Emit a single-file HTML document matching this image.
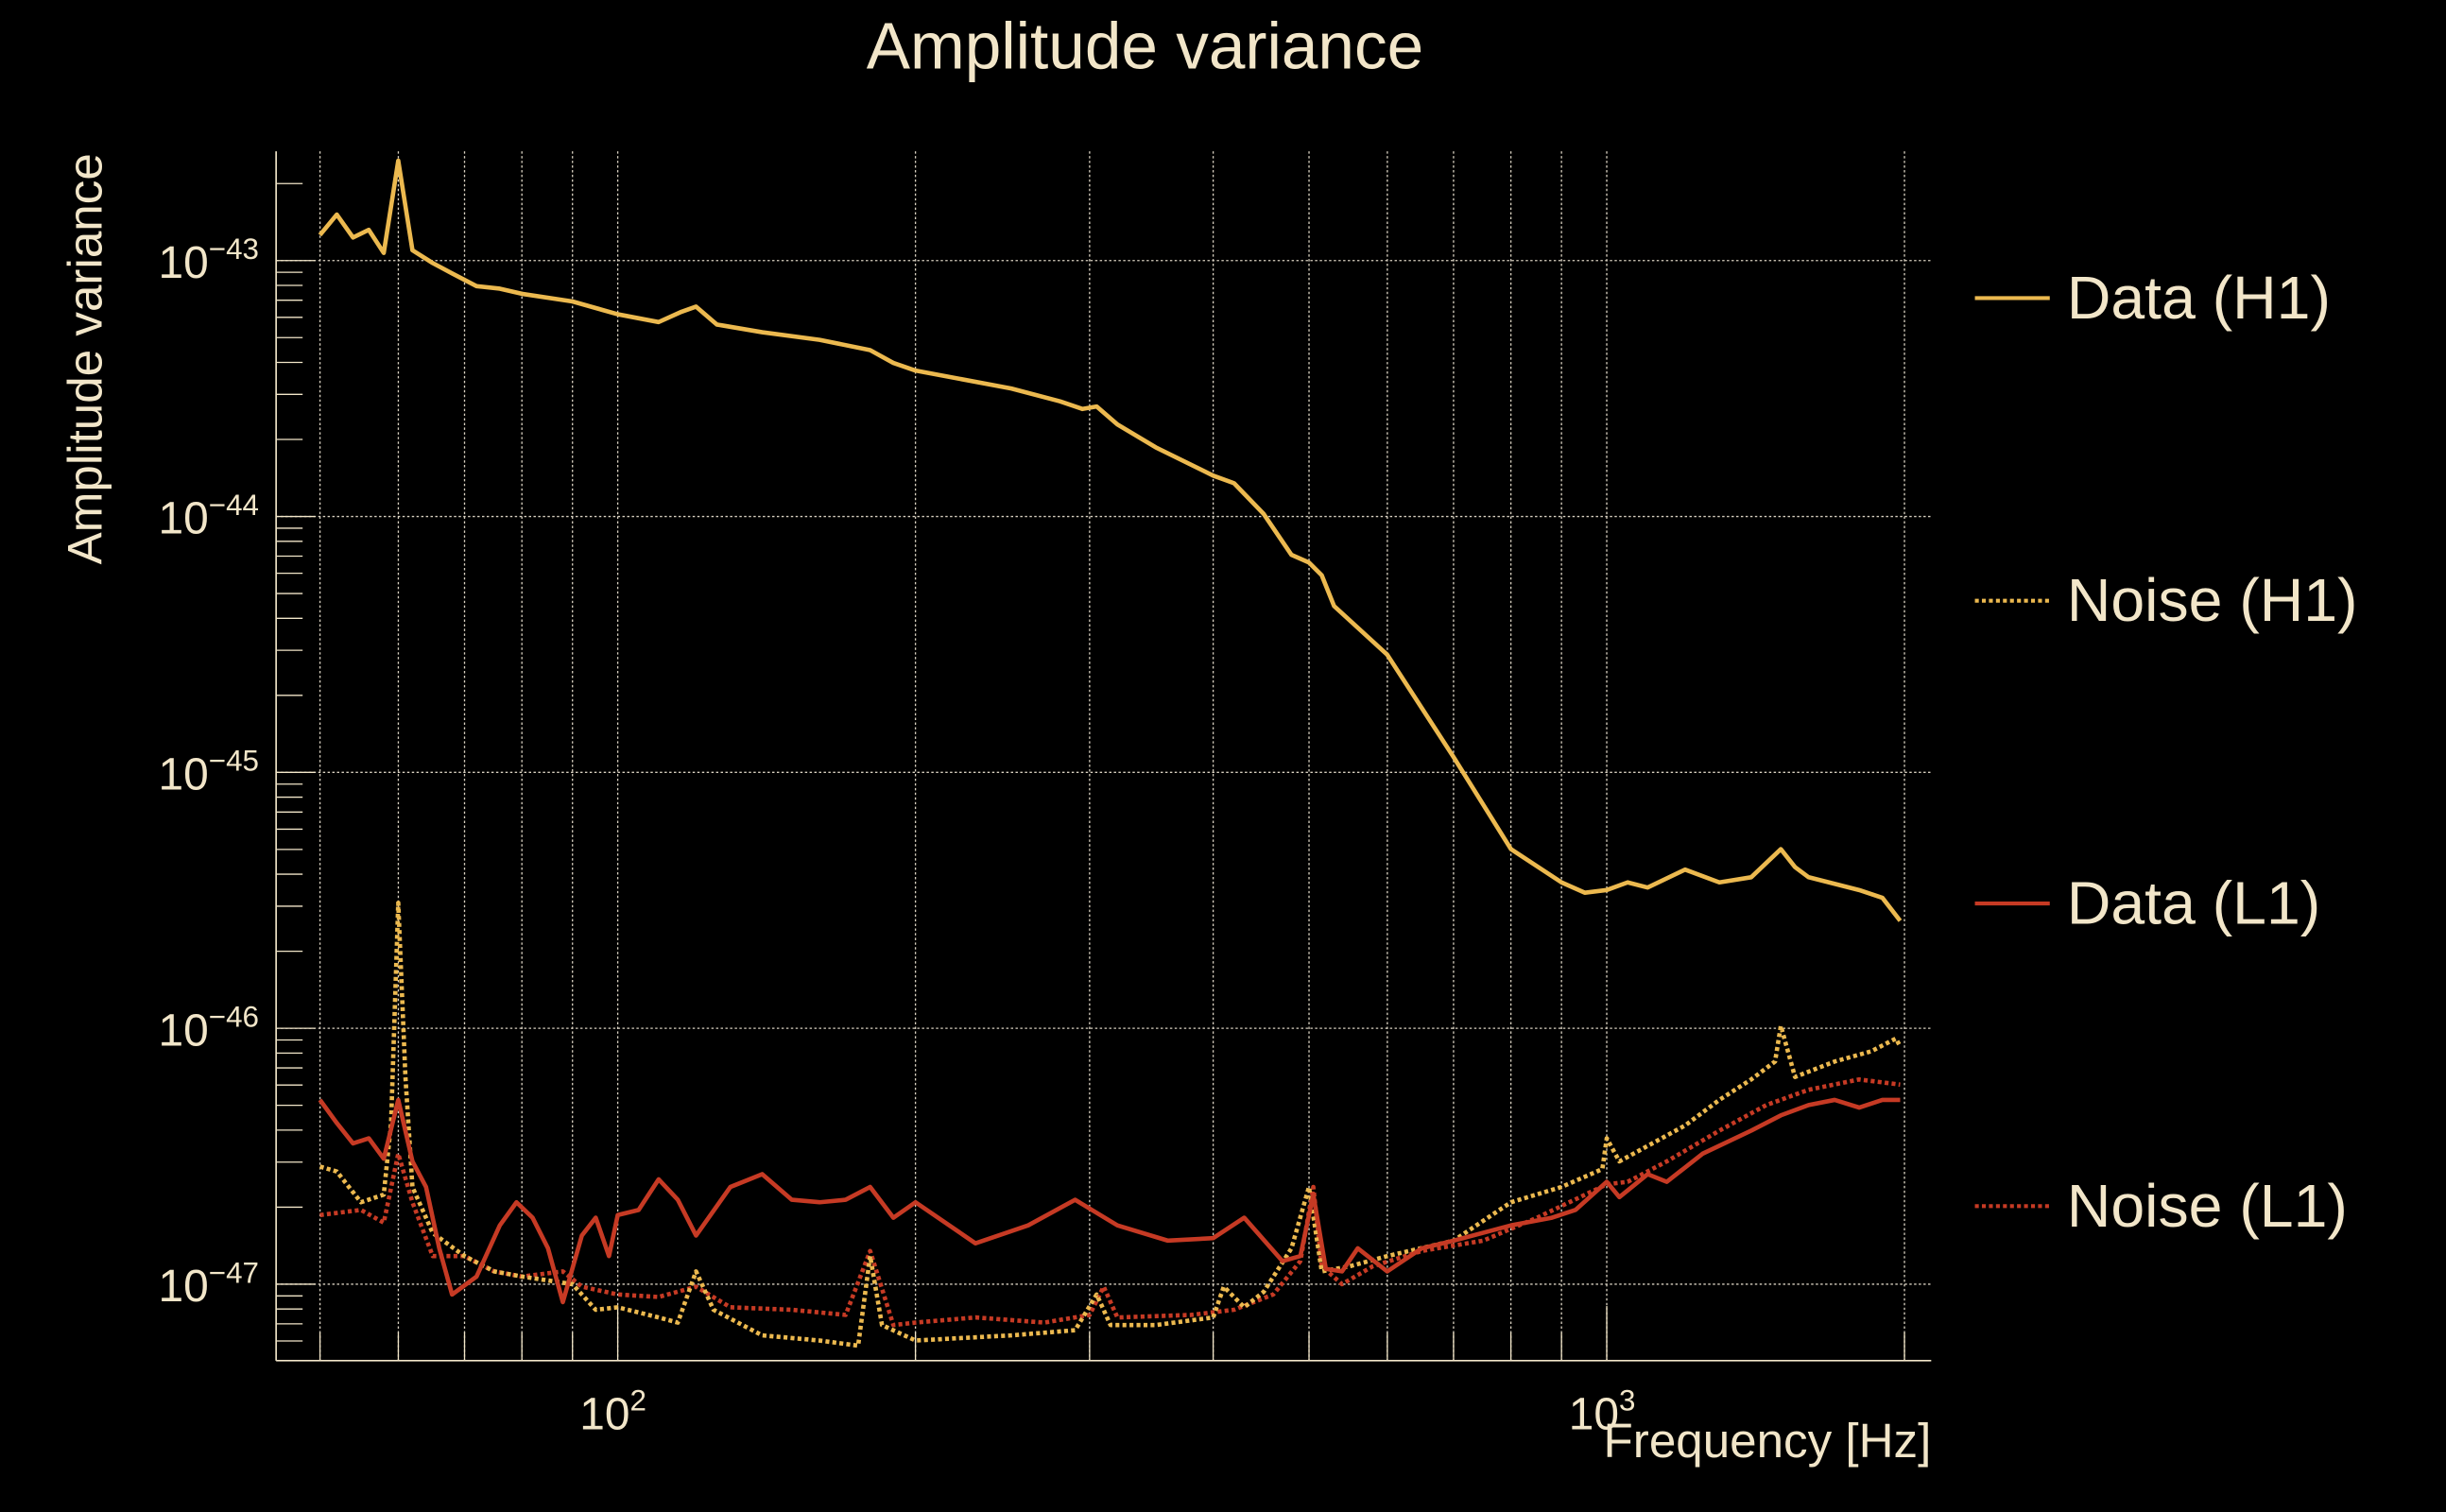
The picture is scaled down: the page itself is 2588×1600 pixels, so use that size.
<!DOCTYPE html>
<html><head><meta charset="utf-8"><style>
html,body{margin:0;padding:0;background:#000;}
svg{display:block;}
text{font-family:"Liberation Sans",sans-serif;fill:#f2e6c9;}
</style></head><body>
<svg id="chart" width="2588" height="1600" viewBox="0 0 1568 969" preserveAspectRatio="none" xmlns="http://www.w3.org/2000/svg">
<rect width="1568" height="969" fill="#000"/>
<g id="grid"></g>
<g id="axes"></g>
<g id="series"></g>
<text x="734" y="44" font-size="42" text-anchor="middle">Amplitude variance</text>
<text x="0" y="0" font-size="31" text-anchor="middle" transform="translate(65,230) rotate(-90)">Amplitude variance</text>
<text x="1238" y="934" font-size="31" text-anchor="end">Frequency [Hz]</text>
<g id="legend"></g>
</svg>
<script>
const hFreq=[50,52,54,56,58,60,62,65,68,72,76,80,90,100,110,116,120,126,140,160,180,190,200,250,280,295,305,320,350,400,420,450,480,500,515,530,600,700,800,900,950,1000,1050,1100,1200,1300,1400,1500,1550,1600,1800,1900,1980];
const dataH1=[-42.90,-42.82,-42.91,-42.88,-42.97,-42.61,-42.96,-43.01,-43.05,-43.10,-43.11,-43.13,-43.16,-43.21,-43.24,-43.20,-43.18,-43.25,-43.28,-43.31,-43.35,-43.40,-43.43,-43.50,-43.55,-43.58,-43.57,-43.64,-43.73,-43.84,-43.87,-43.99,-44.15,-44.18,-44.23,-44.35,-44.54,-44.94,-45.30,-45.43,-45.47,-45.46,-45.43,-45.45,-45.38,-45.43,-45.41,-45.30,-45.37,-45.41,-45.46,-45.49,-45.58];
const nhFreq=[50,52,55,58,59,60,61,62,65,70,75,80,90,95,100,110,115,120,125,140,160,175,180,185,200,250,290,305,315,350,400,410,430,450,480,500,515,550,600,700,800,900,990,1000,1030,1100,1200,1300,1400,1480,1500,1550,1700,1850,1960,1980];
const noiseH1=[-46.54,-46.56,-46.68,-46.65,-46.37,-45.51,-46.19,-46.62,-46.80,-46.89,-46.95,-46.97,-47.00,-47.10,-47.09,-47.13,-47.15,-46.95,-47.10,-47.20,-47.22,-47.24,-46.89,-47.16,-47.22,-47.20,-47.18,-47.04,-47.16,-47.16,-47.13,-47.01,-47.09,-47.03,-46.86,-46.62,-46.95,-46.93,-46.89,-46.83,-46.68,-46.62,-46.55,-46.43,-46.52,-46.46,-46.38,-46.28,-46.20,-46.13,-45.99,-46.19,-46.13,-46.09,-46.04,-46.07];
const lFreq=[50,52,54,56,58,60,62,64,66,68,72,76,79,82,85,88,92,95,98,100,105,110,115,120,130,140,150,160,170,180,190,200,230,260,290,320,360,400,430,470,490,505,520,540,560,600,650,700,800,880,930,1000,1030,1100,1150,1250,1400,1500,1600,1700,1800,1900,1980];
const dataL1=[-46.28,-46.37,-46.45,-46.43,-46.51,-46.28,-46.52,-46.62,-46.86,-47.04,-46.97,-46.77,-46.68,-46.74,-46.86,-47.07,-46.81,-46.74,-46.89,-46.73,-46.71,-46.59,-46.67,-46.81,-46.62,-46.57,-46.67,-46.68,-46.67,-46.62,-46.74,-46.68,-46.84,-46.77,-46.67,-46.77,-46.83,-46.82,-46.74,-46.91,-46.89,-46.65,-46.94,-46.95,-46.86,-46.95,-46.86,-46.83,-46.77,-46.74,-46.71,-46.60,-46.66,-46.57,-46.60,-46.49,-46.40,-46.34,-46.30,-46.28,-46.31,-46.28,-46.28];
const nlFreq=[50,55,58,60,62,65,70,75,80,88,92,100,110,120,130,150,170,180,190,200,230,270,300,310,320,380,420,460,490,505,515,540,580,650,750,850,1000,1050,1150,1300,1450,1600,1800,1980];
const noiseL1=[-46.73,-46.71,-46.76,-46.49,-46.68,-46.89,-46.89,-46.95,-46.97,-46.95,-47.01,-47.04,-47.05,-47.01,-47.09,-47.10,-47.12,-46.87,-47.16,-47.15,-47.13,-47.15,-47.12,-47.01,-47.13,-47.12,-47.10,-47.04,-46.91,-46.62,-46.93,-47.00,-46.93,-46.87,-46.83,-46.74,-46.61,-46.60,-46.52,-46.40,-46.30,-46.24,-46.20,-46.22];
const yTickExps=[-43,-44,-45,-46,-47];
const xMajor=[100,1000];
const xMajorLabels=["2","3"];
const legendLabels=["Data (H1)","Noise (H1)","Data (L1)","Noise (L1)"];

const NS="http://www.w3.org/2000/svg";
const L=177,R=1238,T=97,B=872;
function xs(f){return 396+634*Math.log10(f/100);}
function ys(e){return 167+(-43-e)*164;}
function mk(tag,attrs,parent){const el=document.createElementNS(NS,tag);for(const k in attrs)el.setAttribute(k,attrs[k]);parent.appendChild(el);return el;}
const grid=document.getElementById('grid'),axes=document.getElementById('axes'),ser=document.getElementById('series'),leg=document.getElementById('legend');
const GC="#d8d0c0",AC="#f2e6c9";
const xg=[];for(let f=50;f<100;f+=10)xg.push(f);for(let f=100;f<=2000;f+=(f<1000?100:1000))xg.push(f);
xg.forEach(f=>{const x=xs(f);
 const g=mk('line',{x1:x,x2:x,y1:T,y2:B,stroke:GC,'stroke-width':0.8,'stroke-dasharray':'1.5 1.5'},grid);
 
 
 const isMaj=xMajor.indexOf(f)>=0;
 const t=mk('line',{x1:x,x2:x,y1:B,y2:B-(isMaj?35:18),stroke:AC,'stroke-width':0.8},axes);
 
 
});
yTickExps.forEach(e=>{const y=ys(e);
 const g=mk('line',{x1:L,x2:R,y1:y,y2:y,stroke:GC,'stroke-width':0.8,'stroke-dasharray':'1.5 1.5'},grid);
 
 
 const t=mk('line',{x1:L,x2:L+25,y1:y,y2:y,stroke:AC,'stroke-width':0.8},axes);
 
 
 const lb=mk('text',{x:166,y:y+11,'font-size':29,'text-anchor':'end'},axes);
 
 
 lb.textContent='10';
 const sp=mk('tspan',{dy:-12,'font-size':19},lb);sp.textContent='\u2212'+Math.abs(e);
});
for(let d=-48;d<=-43;d++){for(let m=2;m<=9;m++){const e=d+Math.log10(m);const y=ys(e);if(y<T||y>B)continue;
 const t=mk('line',{x1:L,x2:L+17,y1:y,y2:y,stroke:AC,'stroke-width':0.8},axes);
 
 }}
mk('line',{x1:L,x2:L,y1:T,y2:B,stroke:AC,'stroke-width':1},axes);
mk('line',{x1:L,x2:R,y1:B,y2:B,stroke:AC,'stroke-width':1},axes);
xMajor.forEach((f,i)=>{const x=xs(f);
 const lb=mk('text',{x:x-3,y:916,'font-size':29,'text-anchor':'middle'},axes);
 
 
 lb.textContent='10';
 const sp=mk('tspan',{dy:-12,'font-size':19},lb);sp.textContent=xMajorLabels[i];
});
const YEL="#ecb94f",RED="#c63a24";
function line(freqs,vals,color,dash,name){
 const d=freqs.map((f,i)=>(i?'L':'M')+xs(f).toFixed(1)+','+ys(vals[i]).toFixed(1)).join(' ');
 const p=mk('path',{d:d,fill:'none',stroke:color,'stroke-width':2.8,'stroke-linejoin':'round'},ser);
 if(dash)p.setAttribute('stroke-dasharray',dash);
 
 
}
line(nlFreq,noiseL1,RED,'2.5 2','noise-l1-line');
line(nhFreq,noiseH1,YEL,'2.5 2','noise-h1-line');
line(lFreq,dataL1,RED,null,'data-l1-line');
line(hFreq,dataH1,YEL,null,'data-h1-line');
const lc=[[YEL,null],[YEL,'2.5 2'],[RED,null],[RED,'2.5 2']];
legendLabels.forEach((s,i)=>{const y=191+i*194;
 const g=mk('g',{},leg);
 
 
 const l=mk('line',{x1:1266,x2:1314,y1:y,y2:y,stroke:lc[i][0],'stroke-width':2.5},g);
 if(lc[i][1])l.setAttribute('stroke-dasharray',lc[i][1]);
 const t=mk('text',{x:1325,y:y+13,'font-size':39},g);t.textContent=s;
});
</script>
</body></html>
